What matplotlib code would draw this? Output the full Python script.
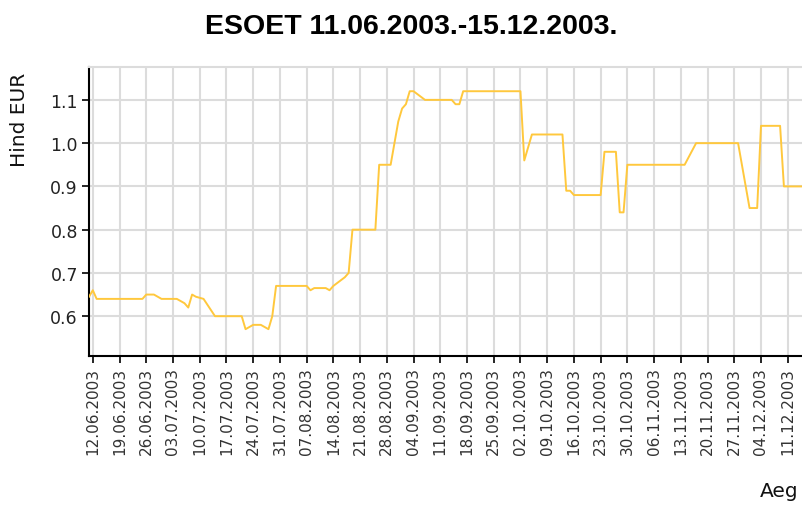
import matplotlib
matplotlib.use("Agg")
import matplotlib.pyplot as plt
import pandas as pd

title = "ESOET 11.06.2003.-15.12.2003."
y_label = "Hind EUR"
x_label = "Aeg"

dates = ["11.06.2003", "12.06.2003", "13.06.2003", "25.06.2003", "26.06.2003", "28.06.2003",
         "29.06.2003", "30.06.2003", "04.07.2003", "06.07.2003", "07.07.2003", "08.07.2003",
         "09.07.2003", "11.07.2003", "14.07.2003", "21.07.2003", "22.07.2003", "24.07.2003",
         "26.07.2003", "27.07.2003", "28.07.2003", "29.07.2003", "30.07.2003", "07.08.2003",
         "08.08.2003", "09.08.2003", "12.08.2003", "13.08.2003", "14.08.2003", "17.08.2003",
         "18.08.2003", "19.08.2003", "25.08.2003", "26.08.2003", "29.08.2003", "30.08.2003",
         "31.08.2003", "01.09.2003", "02.09.2003", "03.09.2003", "04.09.2003", "07.09.2003",
         "14.09.2003", "15.09.2003", "16.09.2003", "17.09.2003", "02.10.2003", "03.10.2003",
         "05.10.2003", "13.10.2003", "14.10.2003", "15.10.2003", "16.10.2003", "23.10.2003",
         "24.10.2003", "27.10.2003", "28.10.2003", "29.10.2003", "30.10.2003", "14.11.2003",
         "17.11.2003", "28.11.2003", "01.12.2003", "03.12.2003", "04.12.2003", "09.12.2003",
         "10.12.2003", "15.12.2003"]
prices = [0.645, 0.66, 0.64, 0.64, 0.65, 0.65,
          0.645, 0.64, 0.64, 0.63, 0.62, 0.65,
          0.645, 0.64, 0.60, 0.60, 0.57, 0.58,
          0.58, 0.575, 0.57, 0.60, 0.67, 0.67,
          0.66, 0.665, 0.665, 0.66, 0.67, 0.69,
          0.70, 0.80, 0.80, 0.95, 0.95, 1.00,
          1.05, 1.08, 1.09, 1.12, 1.12, 1.10,
          1.10, 1.09, 1.09, 1.12, 1.12, 0.96,
          1.02, 1.02, 0.89, 0.89, 0.88, 0.88,
          0.98, 0.98, 0.84, 0.84, 0.95, 0.95,
          1.00, 1.00, 0.85, 0.85, 1.04, 1.04,
          0.90, 0.90]

tick_labels = ["12.06.2003", "19.06.2003", "26.06.2003", "03.07.2003", "10.07.2003",
               "17.07.2003", "24.07.2003", "31.07.2003", "07.08.2003", "14.08.2003",
               "21.08.2003", "28.08.2003", "04.09.2003", "11.09.2003", "18.09.2003",
               "25.09.2003", "02.10.2003", "09.10.2003", "16.10.2003", "23.10.2003",
               "30.10.2003", "06.11.2003", "13.11.2003", "20.11.2003", "27.11.2003",
               "04.12.2003", "11.12.2003"]
y_ticks = [0.6, 0.7, 0.8, 0.9, 1.0, 1.1]

x = pd.to_datetime(dates, format="%d.%m.%Y")
xt = pd.to_datetime(tick_labels, format="%d.%m.%Y")

fig = plt.figure(figsize=(8.03, 5.06), dpi=100)
ax = fig.add_axes([89 / 803, 149 / 506, 714 / 803, 289 / 506])

grid_c = "#dcdcdc"
ax.plot(x, prices, color="#ffc83d", lw=1.4, zorder=3)

ax.set_xlim(pd.Timestamp("2003-06-11"), pd.Timestamp("2003-12-15"))
ax.set_ylim(0.508, 1.176)
ax.set_xticks(xt)
ax.set_xticklabels(tick_labels, rotation=90, fontsize=11, color="#333333",
                   family="DejaVu Sans")
ax.set_yticks(y_ticks)
ax.set_yticklabels([f"{v:.1f}" for v in y_ticks], fontsize=12.5, color="#222222",
                   family="DejaVu Sans")
ax.grid(True, color=grid_c, lw=1.5, zorder=0)
ax.set_axisbelow(True)
ax.tick_params(axis="both", direction="out", length=5, width=1.2, color="black", pad=3)

for s in ["left", "bottom"]:
    ax.spines[s].set_color("black")
    ax.spines[s].set_linewidth(1.5)
ax.spines["right"].set_visible(False)
ax.spines["top"].set_color(grid_c)
ax.spines["top"].set_linewidth(1.5)

fig.text(411 / 803, 1 - 27 / 506, title, ha="center", va="center", fontsize=20.5,
         fontweight="bold", family="Liberation Sans")
fig.text(20 / 803, 1 - 120 / 506, y_label, rotation=90, ha="center", va="center",
         fontsize=14.5, family="DejaVu Sans", color="#111111")
fig.text(779 / 803, 1 - 492 / 506, x_label, ha="center", va="center",
         fontsize=14.5, family="DejaVu Sans", color="#111111")

fig.savefig("out.png", dpi=100)
